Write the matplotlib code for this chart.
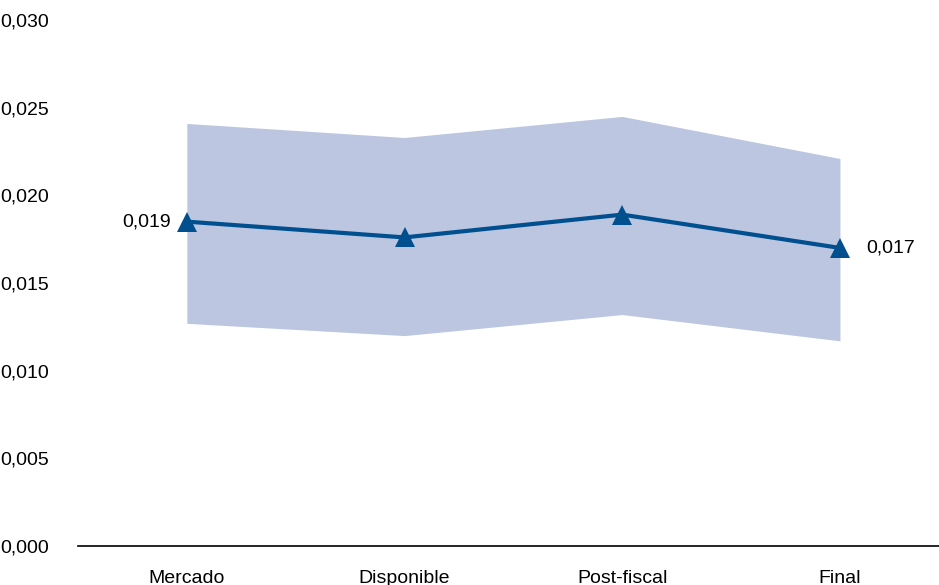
import numpy as np
import matplotlib.pyplot as plt
from matplotlib.ticker import FuncFormatter
from matplotlib import font_manager

# font: condensed sans if available
names = {f.name for f in font_manager.fontManager.ttflist}
fam = "Liberation Sans Narrow" if "Liberation Sans Narrow" in names else "Liberation Sans"
plt.rcParams["font.family"] = [fam, "DejaVu Sans"]
FS = 15 if fam == "Liberation Sans Narrow" else 14

categories = ["Mercado", "Disponible", "Post-fiscal", "Final"]
values = [0.0185, 0.0176, 0.0189, 0.0170]
upper = [0.0241, 0.0233, 0.0245, 0.0221]
lower = [0.0127, 0.0120, 0.0132, 0.0117]
labels = {0: "0,019", 3: "0,017"}

BLUE = "#00508f"
BAND = "#bcc6e0"

fig = plt.figure(figsize=(9.39, 5.85), dpi=100)
ax = fig.add_axes([78 / 939, 39 / 585, 1 - 78 / 939, 526 / 585])

x = np.arange(len(categories))
ax.fill_between(x, lower, upper, color=BAND, linewidth=0)
ax.plot(x, values, color=BLUE, linewidth=3.0, marker="^", markersize=15,
        markeredgewidth=0, zorder=3)

ax.text(x[0] - 0.075, values[0], labels[0], ha="right", va="center", fontsize=FS)
ax.text(x[3] + 0.12, values[3], labels[3], ha="left", va="center", fontsize=FS)

ax.set_xlim(-0.5, 3.455)
ax.set_ylim(0, 0.030)
ax.set_yticks(np.arange(0, 0.0301, 0.005))
ax.yaxis.set_major_formatter(FuncFormatter(lambda v, p: f"{v:.3f}".replace(".", ",")))
ax.set_xticks(x)
ax.set_xticklabels(categories)

for s in ["top", "right", "left"]:
    ax.spines[s].set_visible(False)
ax.spines["bottom"].set_linewidth(1.2)
ax.tick_params(axis="y", length=0, pad=21, labelsize=FS)
ax.tick_params(axis="x", length=0, pad=17, labelsize=FS)

fig.savefig("out.png", dpi=100)
